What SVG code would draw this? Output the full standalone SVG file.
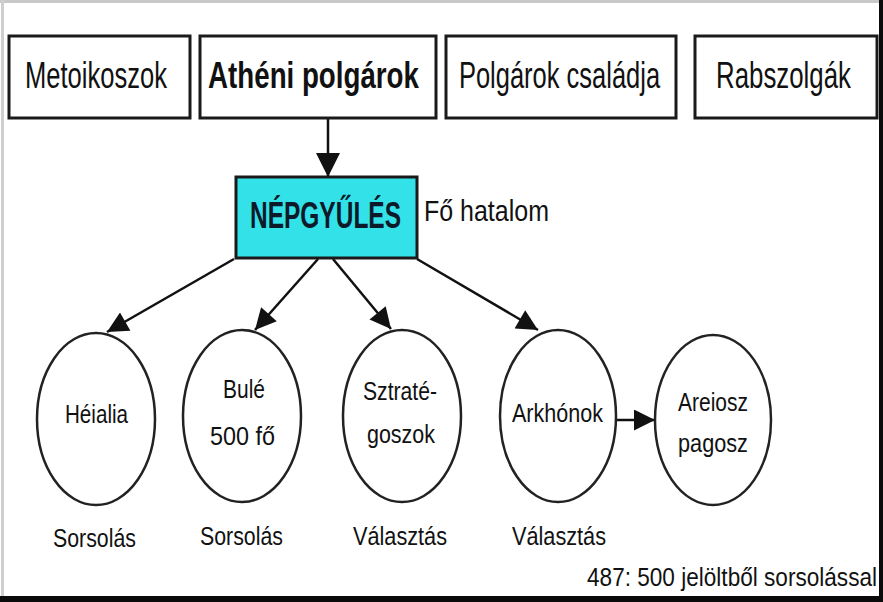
<svg xmlns="http://www.w3.org/2000/svg" width="883" height="602" viewBox="0 0 883 602">
<style>
.box{fill:#fff;stroke:#1a1a1a;stroke-width:3}
.hub{fill:#33e2e8;stroke:#1a1a1a;stroke-width:3}
.circ{fill:#fff;stroke:#222;stroke-width:2.5}
text{font-family:"Liberation Sans",Arial,sans-serif;fill:#111;text-anchor:middle}
.bt{font-size:37px}
.bb{font-size:37px;font-weight:bold}
.ct{font-size:25px}
.lt{font-size:26px}
.con{stroke:#111;stroke-width:2.5;fill:none}
</style>
<defs>
<marker id="ah" viewBox="0 0 10 10" refX="10" refY="5" markerUnits="userSpaceOnUse" markerWidth="25" markerHeight="21" orient="auto">
<path d="M0,0 L10,5 L0,10 z" fill="#111"/>
</marker>
<marker id="ahb" viewBox="0 0 10 10" refX="10" refY="5" markerUnits="userSpaceOnUse" markerWidth="28" markerHeight="24" orient="auto">
<path d="M0,0 L10,5 L0,10 z" fill="#111"/>
</marker>
</defs>
<rect x="0" y="0" width="883" height="602" fill="#fff"/>
<rect x="0" y="0" width="883" height="3" fill="#c8c8c8"/>
<rect x="1" y="0" width="3" height="602" fill="#cfcfcf"/>
<rect x="879" y="0" width="4" height="602" fill="#0a0a0a"/>
<rect x="0" y="596" width="883" height="6" fill="#0a0a0a"/>

<g id="connectors">
<line class="con" x1="328" y1="118" x2="328" y2="177" stroke-width="3.5" marker-end="url(#ahb)"/>
<line class="con" x1="234" y1="259" x2="107" y2="332" marker-end="url(#ah)"/>
<line class="con" x1="318" y1="259" x2="255" y2="330" marker-end="url(#ah)"/>
<line class="con" x1="333" y1="259" x2="391" y2="329" marker-end="url(#ah)"/>
<line class="con" x1="417" y1="259" x2="538" y2="330" marker-end="url(#ah)"/>
<line class="con" x1="617" y1="420" x2="655" y2="420" stroke-width="3" marker-end="url(#ah)"/>
</g>

<g id="metoikoszok">
<rect class="box" x="9" y="36" width="181" height="82"/>
<text class="bt" transform="translate(96,88) scale(0.691,1)">Metoikoszok</text>
</g>
<g id="atheni-polgarok">
<rect class="box" x="200" y="36" width="236" height="82"/>
<text class="bb" transform="translate(313.5,88) scale(0.749,1)">Athéni polgárok</text>
</g>
<g id="polgarok-csaladja">
<rect class="box" x="446" y="36" width="230" height="82"/>
<text class="bt" transform="translate(559.5,88) scale(0.689,1)">Polgárok családja</text>
</g>
<g id="rabszolgak">
<rect class="box" x="695" y="36" width="182" height="82"/>
<text class="bt" transform="translate(783.5,88) scale(0.698,1)">Rabszolgák</text>
</g>

<g id="nepgyules">
<rect class="hub" x="236" y="177" width="181" height="81"/>
<text class="bb" font-size="36" fill="#0c1a2a" style="fill:#0c1a2a" transform="translate(325.5,228) scale(0.662,1)">NÉPGYŰLÉS</text>
</g>
<text class="bt" font-size="30" style="font-size:30px;text-anchor:start" transform="translate(424,221) scale(0.833,1)">Fő hatalom</text>

<g id="heialia">
<ellipse class="circ" cx="96" cy="419" rx="59" ry="86"/>
<text class="ct" transform="translate(96.5,423) scale(0.825,1)">Héialia</text>
</g>
<text class="lt" transform="translate(94.5,547) scale(0.82,1)">Sorsolás</text>

<g id="bule">
<ellipse class="circ" cx="242" cy="416" rx="59" ry="86"/>
<text class="ct" transform="translate(244,398) scale(0.84,1)">Bulé</text>
<text class="ct" transform="translate(242.5,445) scale(0.935,1)">500 fő</text>
</g>
<text class="lt" transform="translate(241.5,545) scale(0.82,1)">Sorsolás</text>

<g id="sztrategoszok">
<ellipse class="circ" cx="402" cy="416" rx="59" ry="86"/>
<text class="ct" transform="translate(400,400) scale(0.846,1)">Sztraté-</text>
<text class="ct" transform="translate(401,443) scale(0.859,1)">goszok</text>
</g>
<text class="lt" transform="translate(400,545) scale(0.834,1)">Választás</text>

<g id="arkhonok">
<ellipse class="circ" cx="558" cy="416" rx="58" ry="86"/>
<text class="ct" transform="translate(557.5,422) scale(0.862,1)">Arkhónok</text>
</g>
<text class="lt" transform="translate(559,545) scale(0.834,1)">Választás</text>

<g id="areiosz-pagosz">
<ellipse class="circ" cx="713" cy="420" rx="58" ry="85"/>
<text class="ct" transform="translate(713,411) scale(0.84,1)">Areiosz</text>
<text class="ct" transform="translate(713,452) scale(0.868,1)">pagosz</text>
</g>

<text class="lt" style="text-anchor:end" transform="translate(877,586) scale(0.869,1)">487: 500 jelöltből sorsolással</text>
</svg>
